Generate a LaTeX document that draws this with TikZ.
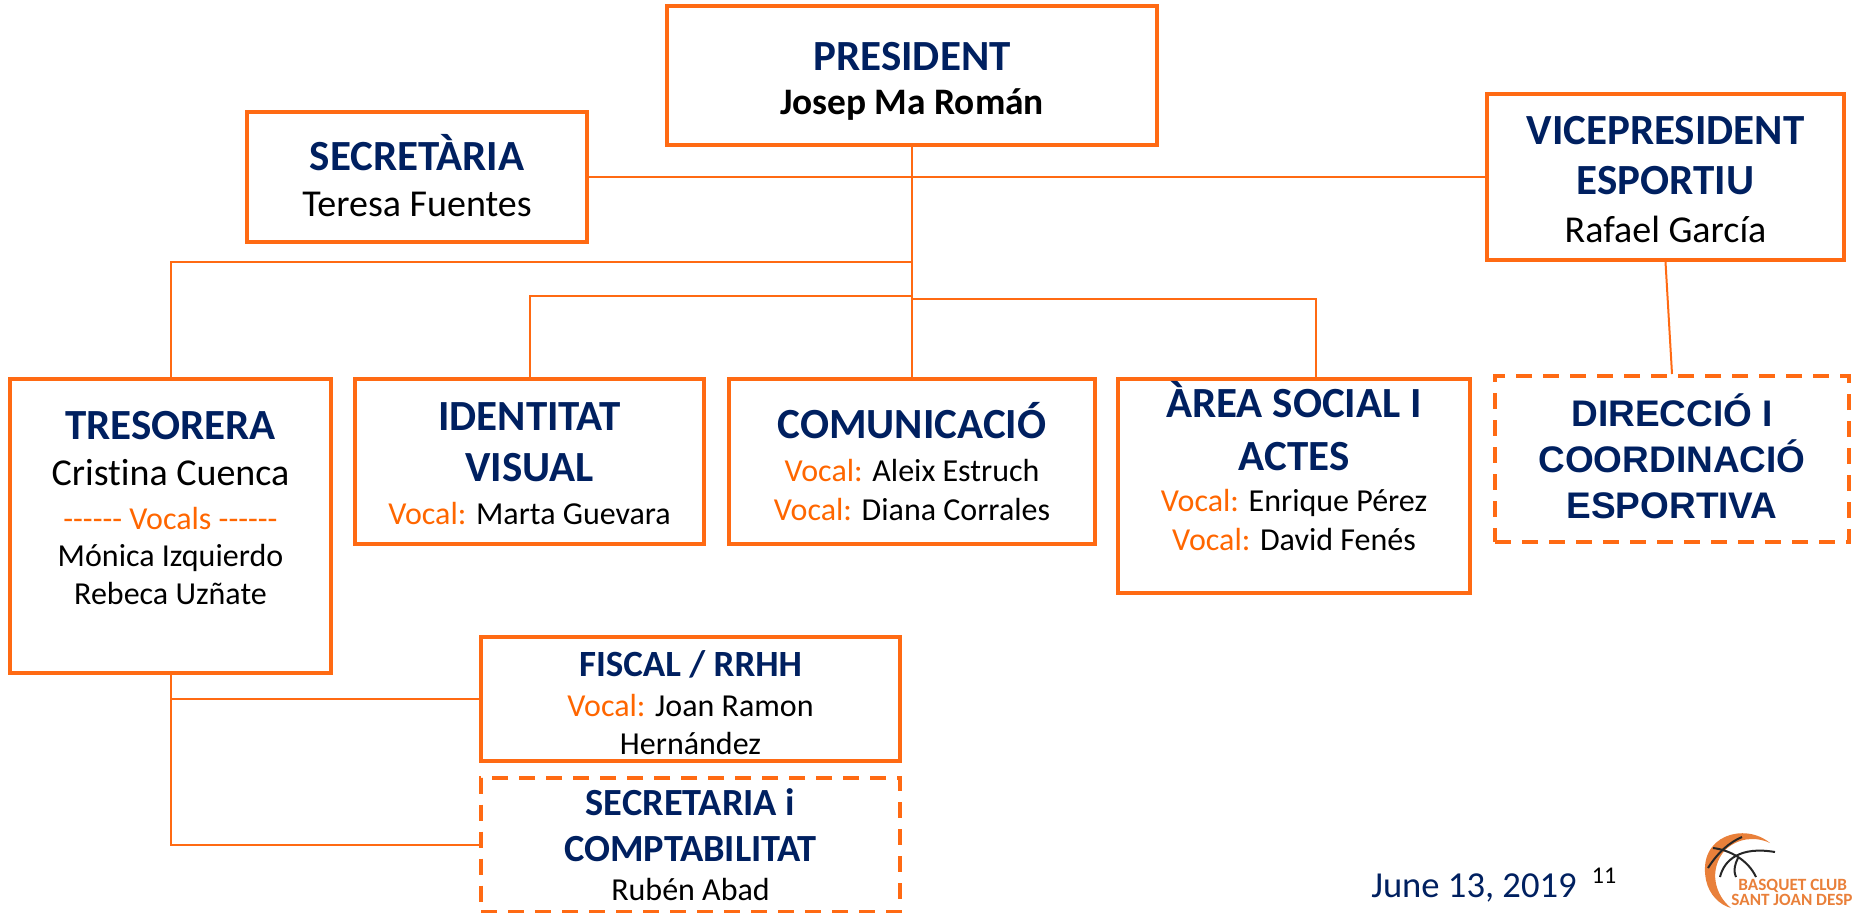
\documentclass[tikz,border=0pt]{standalone}
\usepackage{fontspec}
\setmainfont[Ligatures=NoCommon]{Carlito}
\newfontfamily\arialbold[BoldFont=Liberation Sans Bold]{Liberation Sans}
\usetikzlibrary{calc}
\definecolor{clubline}{HTML}{FF6A13}
\definecolor{clubvocal}{HTML}{FF6600}
\definecolor{clubnavy}{HTML}{002060}
\definecolor{clublogo}{HTML}{E9803A}
\lineskiplimit=-100pt
\newcommand{\ttl}[1]{{\fontsize{21.5}{16}\selectfont\bfseries\color{clubnavy}#1}}
\newcommand{\smallttl}[1]{{\fontsize{19.2}{16}\selectfont\bfseries\color{clubnavy}#1}}
\newcommand{\arialttl}[1]{{\fontsize{18.5}{16}\selectfont\arialbold\bfseries\color{clubnavy}#1}}
\newcommand{\nm}[1]{{\fontsize{19}{16}\selectfont #1}}
\newcommand{\sm}[1]{{\fontsize{16}{16}\selectfont #1}}
\newcommand{\voc}[1]{{\fontsize{16}{16}\selectfont\textcolor{clubvocal}{Vocal:} #1}}
\newcommand{\topstrut}[1]{\rule{0pt}{#1}}
\newcommand{\botstrut}[1]{\rule[-#1]{0pt}{#1}}
\begin{document}
\begin{tikzpicture}[x=0.5pt,y=-0.5pt]
        \tikzset{
            orgbox/.style={draw=clubline,line width=2pt,align=center,inner sep=0pt,font=\fontsize{16}{16}\selectfont},
            orgdash/.style={orgbox,dash pattern=on 8pt off 5.5pt},
            orglink/.style={draw=clubline,line width=1pt}
        };
        \useasboundingbox (0,0) rectangle (1852,912);
        \node[orgbox,minimum width=245pt,minimum height=69.5pt] (president) at (912,75.5) {\topstrut{20pt}\ttl{PRESIDENT}\\[6.3pt]{\fontsize{18.7}{16}\selectfont\bfseries Josep Ma Román}};
        \node[orgbox,minimum width=170pt,minimum height=65pt] (secretaria) at (417,177) {\ttl{SECRETÀRIA}\\[7pt]\botstrut{2pt}\nm{Teresa Fuentes}};
        \node[orgbox,minimum width=178.5pt,minimum height=83pt] (vice) at (1665.5,177) {\topstrut{16.2pt}\ttl{VICEPRESIDENT}\\[9pt]\ttl{ESPORTIU}\\[8pt]\nm{Rafael García}};
        \node[orgbox,minimum width=160.5pt,minimum height=147pt] (tresorera) at (170.5,526) {\ttl{TRESORERA}\\[7pt]\nm{Cristina Cuenca}\\[6pt]{\fontsize{16}{16}\selectfont\color{clubvocal}{-}{-}{-}{-}{-}{-} Vocals {-}{-}{-}{-}{-}{-}}\\[2.5pt]\sm{Mónica Izquierdo}\\[3pt]\sm{Rebeca Uzñate}\\[2pt]\mbox{}};
        \node[orgbox,minimum width=174.5pt,minimum height=82.5pt] (identitat) at (529.5,461.5) {\topstrut{15.8pt}\ttl{IDENTITAT}\\[9.6pt]\ttl{VISUAL}\\[5.3pt]\voc{Marta Guevara}};
        \node[orgbox,minimum width=183pt,minimum height=82.5pt] (comunicacio) at (912,461.5) {\ttl{COMUNICACIÓ}\\[5.3pt]\voc{Aleix Estruch}\\[3.5pt]\voc{Diana Corrales}};
        \node[orgbox,minimum width=176pt,minimum height=107pt] (area) at (1294,486) {\ttl{ÀREA SOCIAL I}\\[10.6pt]\ttl{ACTES}\\[4.8pt]\voc{Enrique Pérez}\\[3.5pt]\voc{David Fenés}\\[4pt]\mbox{}};
        \node[orgdash,minimum width=177pt,minimum height=83pt] (direccio) at (1672,459) {\arialttl{DIRECCIÓ I}\\[6.8pt]\arialttl{COORDINACIÓ}\\[6.8pt]\botstrut{3pt}\arialttl{ESPORTIVA}};
        \node[orgbox,minimum width=209.5pt,minimum height=62pt] (fiscal) at (690.5,699) {\topstrut{17pt}{\fontsize{18.5}{16}\selectfont\bfseries\color{clubnavy}FISCAL / RRHH}\\[4pt]\voc{Joan Ramon}\\[3pt]\sm{Hernández}};
        \node[orgdash,minimum width=209.5pt,minimum height=67pt] (comptabilitat) at (690.5,844.5) {\smallttl{SECRETARIA i}\\[7pt]\smallttl{COMPTABILITAT}\\[3.8pt]\sm{Rubén Abad}};
        \coordinate (tresjoin) at (912,262);
        \coordinate (identjoin) at (912,296);
        \coordinate (areajoin) at (912,299);
        \coordinate (areatop) at (1316,379);
        \draw[orglink] (secretaria.east) -- (vice.west);
        \draw[orglink] (president.south) -- (comunicacio.north);
        \draw[orglink] (tresorera.north) |- (tresjoin);
        \draw[orglink] (identitat.north) |- (identjoin);
        \draw[orglink] (areatop) |- (areajoin);
        \draw[orglink] (vice.south) -- (direccio.north);
        \draw[orglink] (tresorera.south) |- (fiscal.west);
        \draw[orglink] (tresorera.south) |- (comptabilitat.west);
        \node[text=clubnavy,font=\fontsize{18.3}{20}\selectfont] (date) at (1474,888) {June 13, 2019};
        \node[font=\fontsize{12}{12}\selectfont] (page) at (1604,876) {11};
        \begin{scope}
            \clip (1704,828) rectangle (1852,912);
            \fill[clublogo] (1770,843) .. controls (1745,822) and (1697,835) .. (1706,880) .. controls (1709,895) and (1720,905) .. (1731,908) .. controls (1715,895) and (1708,870) .. (1725,850) .. controls (1738,838) and (1755,836) .. (1770,843);
            \draw[black!85,line width=1pt] (1708,868) .. controls (1718,852) and (1730,842) .. (1742,837);
            \draw[black!85,line width=1pt] (1720,877) .. controls (1724,860) and (1740,846) .. (1775,852);
            \draw[black!85,line width=1pt] (1713,848) .. controls (1730,850) and (1748,860) .. (1756,877);
            \draw[black!85,line width=1pt] (1736,877) .. controls (1733,870) and (1735,864) .. (1738,858);
            \node[text=clublogo,font=\fontsize{8.6}{9}\selectfont\bfseries,anchor=west,inner sep=0pt] (logotop) at (1738,886) {BASQUET CLUB};
            \node[text=clublogo,font=\fontsize{8.6}{9}\selectfont\bfseries,anchor=west,inner sep=0pt] (logobottom) at (1731,900) {SANT JOAN DESP};
        \end{scope}
    \end{tikzpicture}
\end{document}
